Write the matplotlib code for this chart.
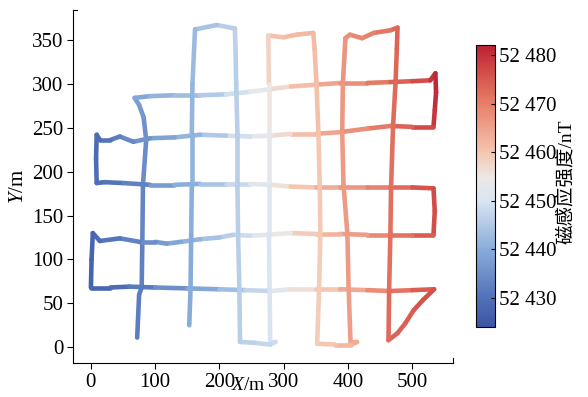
import numpy as np
import matplotlib
matplotlib.use("Agg")
import matplotlib.pyplot as plt
from matplotlib.collections import LineCollection
from matplotlib.colors import LinearSegmentedColormap, Normalize
from matplotlib.lines import Line2D
from matplotlib.ticker import FuncFormatter

plt.rcParams['font.family'] = ['Liberation Serif', 'Noto Sans CJK SC']
plt.rcParams['mathtext.fontset'] = 'custom'
plt.rcParams['mathtext.rm'] = 'Liberation Serif'
plt.rcParams['mathtext.it'] = 'Liberation Serif:italic'

# ---- track data: x (m), y (m), magnetic intensity (nT) ----
track_x = [72, 75, 79, 80, 81, 86, 82, 75, 68,
           92, 130, 170, 210, 248, 280, 311, 350, 388, 430, 466, 500, 528, 536,
           537, 535, 533,
           500, 466, 430, 388, 350, 311, 280, 248, 210, 170, 130, 92, 66, 45, 30, 14, 9,
           8, 9,
           21, 50, 92, 130, 170, 210, 248, 280, 311, 350, 388, 430, 466, 500, 533,
           535, 533,
           500, 466, 430, 388, 350, 311, 274, 248, 221, 200, 170, 140, 118, 100, 76, 45, 14, 3,
           1, 0,
           30, 60, 100, 150, 200, 240, 280, 311, 350, 388, 430, 466, 500, 534,
           517, 502, 489, 477, 463,
           464, 466, 467, 470, 474, 476, 477,
           466, 440, 422, 403, 396,
           392, 391, 393, 399, 401, 404,
           414, 405, 380, 352,
           355, 357, 356, 354, 351, 348, 346,
           320, 300, 276,
           277, 277, 277, 277, 278, 279, 279,
           287, 279, 255, 232,
           231, 229, 228, 228, 226, 225, 224,
           196, 162,
           158, 157, 157, 156, 155, 153]
track_y = [11, 60, 68, 120, 185, 236, 262, 276, 284,
           286, 287, 287, 288, 291, 294, 297, 299, 301, 301, 302, 303, 304, 312,
           290, 270, 251,
           251, 252, 249, 245, 243, 243, 241, 240, 241, 242, 239, 238, 234, 240, 236, 236, 242,
           215, 187,
           188, 187, 185, 185, 186, 186, 186, 185, 183, 182, 182, 182, 182, 182, 181,
           155, 128,
           128, 128, 128, 129, 129, 130, 128, 127, 128, 125, 123, 120, 118, 120, 120, 124, 121, 130,
           100, 68,
           68, 69, 68, 67, 66, 65, 64, 66, 66, 66, 65, 64, 65, 66,
           54, 42, 27, 16, 8,
           66, 130, 182, 250, 302, 340, 364,
           361, 358, 352, 356, 352,
           300, 244, 185, 130, 66, 5,
           6, 3, 3, 4,
           66, 130, 185, 243, 300, 340, 358,
           356, 353, 355,
           300, 243, 185, 128, 66, 4, 4,
           6, 3, 5, 6,
           66, 128, 185, 243, 300, 340, 363,
           367, 362,
           300, 243, 185, 128, 66, 25]
track_b = [52432, 52432, 52432, 52433, 52434, 52435, 52436, 52437, 52438,
           52440, 52442, 52444, 52447, 52451, 52455, 52459, 52463, 52466, 52469, 52472, 52475, 52478, 52481,
           52481, 52480, 52479,
           52475, 52472, 52469, 52466, 52463, 52459, 52455, 52451, 52447, 52443, 52440, 52437, 52435, 52433, 52431, 52430, 52429,
           52429, 52429,
           52430, 52431, 52435, 52439, 52442, 52446, 52450, 52454, 52458, 52462, 52465, 52468, 52471, 52474, 52477,
           52477, 52476,
           52473, 52470, 52467, 52464, 52461, 52457, 52453, 52450, 52447, 52445, 52442, 52440, 52438, 52436, 52434, 52432, 52430, 52428,
           52427, 52427,
           52428, 52430, 52433, 52437, 52441, 52445, 52450, 52454, 52458, 52462, 52466, 52470, 52473, 52476,
           52476, 52475, 52474, 52474, 52473,
           52472, 52472, 52472, 52472, 52473, 52473, 52474,
           52472, 52470, 52469, 52468, 52467,
           52467, 52466, 52466, 52466, 52466, 52465,
           52464, 52463, 52461, 52459,
           52459, 52459, 52460, 52460, 52461, 52461, 52462,
           52462, 52461, 52460,
           52456, 52454, 52452, 52451, 52450, 52450, 52449,
           52449, 52448, 52447, 52446,
           52446, 52446, 52446, 52446, 52446, 52446, 52447,
           52445, 52443,
           52442, 52441, 52441, 52440, 52440, 52440]

b_min, b_max = 52424, 52482
x_ticks = [0, 100, 200, 300, 400, 500]
y_ticks = [0, 50, 100, 150, 200, 250, 300, 350]
cb_ticks = [52430, 52440, 52450, 52460, 52470, 52480]

cmap = LinearSegmentedColormap.from_list('mag', [
    (0.0, '#3C55A5'), (0.1, '#5070B8'), (0.28, '#8AAEDB'), (0.45, '#DAE5F2'),
    (0.53, '#ECE8E6'), (0.62, '#F5C6B0'), (0.79, '#E8806A'), (0.9, '#D4504A'),
    (1.0, '#BB2233')])
norm = Normalize(vmin=b_min, vmax=b_max)

fig = plt.figure(figsize=(5.88, 3.97), dpi=100)
ax = fig.add_axes([0.124, 0.0856, 0.646, 0.889])

pts = np.column_stack([track_x, track_y]).astype(float)
segs = np.stack([pts[:-1], pts[1:]], axis=1)
bvals = np.array(track_b, dtype=float)
segval = 0.5 * (bvals[:-1] + bvals[1:])
lc = LineCollection(segs, cmap=cmap, norm=norm, linewidths=3.3,
                    capstyle='round', joinstyle='round')
lc.set_array(segval)
ax.add_collection(lc)

ax.set_xlim(-28, 563)
ax.set_ylim(-18, 384)
ax.set_xticks(x_ticks)
ax.set_yticks(y_ticks)
ax.spines['top'].set_visible(False)
ax.spines['right'].set_visible(False)
ax.tick_params(direction='out', length=4, width=0.8, labelsize=15, pad=3)
ax.set_xlabel('$X$/m', fontsize=14)
ax.xaxis.set_label_coords(0.462, -0.04)
ax.set_ylabel('$Y$/m', fontsize=15, labelpad=3)
# end caps of axis lines
ax.add_line(Line2D([0, 0.012], [1, 1], transform=ax.transAxes, color='black',
                   lw=0.8, clip_on=False))
ax.add_line(Line2D([1, 1], [0, 0.014], transform=ax.transAxes, color='black',
                   lw=0.8, clip_on=False))

cax = fig.add_axes([0.810, 0.176, 0.032, 0.710])
sm = plt.cm.ScalarMappable(cmap=cmap, norm=norm)
cb = fig.colorbar(sm, cax=cax, ticks=cb_ticks)
cb.ax.yaxis.set_major_formatter(FuncFormatter(lambda v, p: f"{int(v) // 1000} {int(v) % 1000:03d}"))
cb.ax.tick_params(direction='in', length=3, width=0.8, labelsize=15, pad=3)
cb.outline.set_linewidth(0.8)
fig.text(567 / 588, 1 - 182 / 397, '磁感应强度/nT', rotation=90, fontsize=14,
         ha='center', va='center')

fig.savefig('out.png', dpi=100)
